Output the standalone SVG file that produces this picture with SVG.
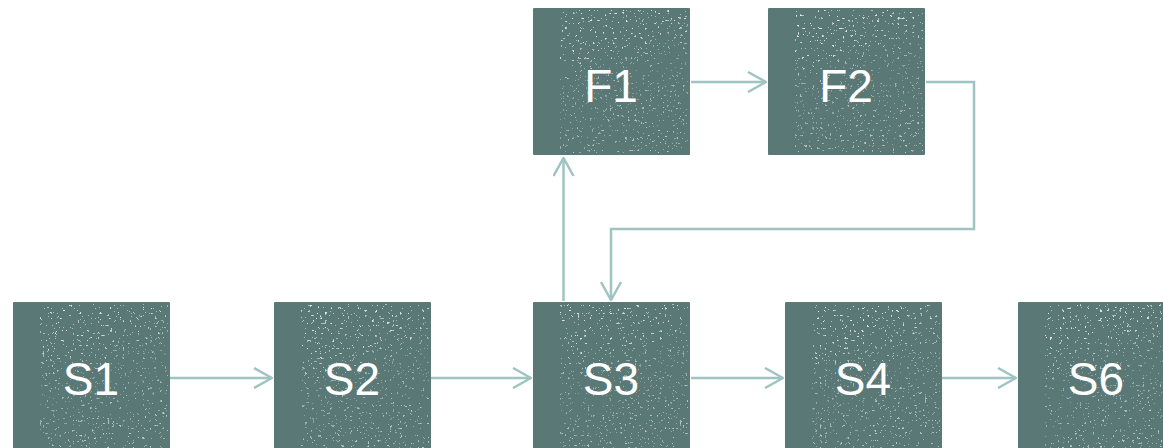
<svg xmlns="http://www.w3.org/2000/svg" width="1163" height="448" viewBox="0 0 1163 448">
  <style>
    .box { fill: #5a7876; }
    .grain { fill: #ffffff; filter: url(#speckle); }
    .label { font-family: "Liberation Sans", Arial, sans-serif; font-size: 46px; fill: #ffffff; text-anchor: middle; }
    .link { fill: none; stroke: #9fc4c2; stroke-width: 2.5; marker-end: url(#chevron); }
  </style>
  <defs>
    <!-- open chevron arrowhead -->
    <marker id="chevron" viewBox="0 0 20 22" refX="19" refY="11" markerWidth="20" markerHeight="22" markerUnits="userSpaceOnUse" orient="auto">
      <path d="M1 1 L19 11 L1 21" fill="none" stroke="#9fc4c2" stroke-width="2.5"/>
    </marker>
    <!-- light speckled stone texture -->
    <filter id="speckle" x="0" y="0" width="100%" height="100%">
      <feTurbulence type="fractalNoise" baseFrequency="0.4" numOctaves="2" seed="11" result="noise"/>
      <feColorMatrix in="noise" type="matrix" values="0 0 0 0 1  0 0 0 0 1  0 0 0 0 1  1.8 0 0 0 -0.45" result="white"/>
      <feComponentTransfer in="white" result="dots">
        <feFuncA type="discrete" tableValues="0 0 0 0 0 0 0 0 0.55 0.85"/>
      </feComponentTransfer>
      <feComposite in="dots" in2="SourceGraphic" operator="in"/>
    </filter>
    <linearGradient id="fade" x1="0" y1="0" x2="0.3" y2="1">
      <stop offset="0" stop-color="#fff" stop-opacity="1"/>
      <stop offset="0.3" stop-color="#fff" stop-opacity="0.9"/>
      <stop offset="0.6" stop-color="#fff" stop-opacity="0.5"/>
      <stop offset="1" stop-color="#fff" stop-opacity="0.7"/>
    </linearGradient>
    <mask id="grainMask" maskContentUnits="objectBoundingBox">
      <rect x="0" y="0" width="1" height="1" fill="url(#fade)"/>
    </mask>
  </defs>

  <!-- connectors -->
  <g id="connectors">
    <path class="link" d="M170 378 H272"/>
    <path class="link" d="M431 378 H531"/>
    <path class="link" d="M691 378 H783"/>
    <path class="link" d="M942 378 H1016"/>
    <path class="link" d="M691 82 H766"/>
    <path class="link" d="M563.5 301 V158"/>
    <path class="link" d="M926 82 H974 V229 H611 V300"/>
  </g>

  <!-- nodes -->
  <g id="F1">
    <rect class="box" x="533" y="8" width="157" height="147" rx="1"/>
    <rect class="grain" x="560" y="10" width="128" height="143" mask="url(#grainMask)"/>
    <text class="label" x="611" y="102">F1</text>
  </g>
  <g id="F2">
    <rect class="box" x="768" y="8" width="157" height="147" rx="1"/>
    <rect class="grain" x="795" y="10" width="128" height="143" mask="url(#grainMask)"/>
    <text class="label" x="846" y="102">F2</text>
  </g>
  <g id="S1">
    <rect class="box" x="13" y="302" width="157" height="150" rx="1"/>
    <rect class="grain" x="40" y="304" width="128" height="146" mask="url(#grainMask)"/>
    <text class="label" x="91" y="395">S1</text>
  </g>
  <g id="S2">
    <rect class="box" x="274" y="302" width="157" height="150" rx="1"/>
    <rect class="grain" x="301" y="304" width="128" height="146" mask="url(#grainMask)"/>
    <text class="label" x="352" y="395">S2</text>
  </g>
  <g id="S3">
    <rect class="box" x="533" y="302" width="157" height="150" rx="1"/>
    <rect class="grain" x="560" y="304" width="128" height="146" mask="url(#grainMask)"/>
    <text class="label" x="611" y="395">S3</text>
  </g>
  <g id="S4">
    <rect class="box" x="785" y="302" width="157" height="150" rx="1"/>
    <rect class="grain" x="812" y="304" width="128" height="146" mask="url(#grainMask)"/>
    <text class="label" x="863" y="395">S4</text>
  </g>
  <g id="S6">
    <rect class="box" x="1018" y="302" width="157" height="150" rx="1"/>
    <rect class="grain" x="1045" y="304" width="128" height="146" mask="url(#grainMask)"/>
    <text class="label" x="1096" y="395">S6</text>
  </g>
</svg>
